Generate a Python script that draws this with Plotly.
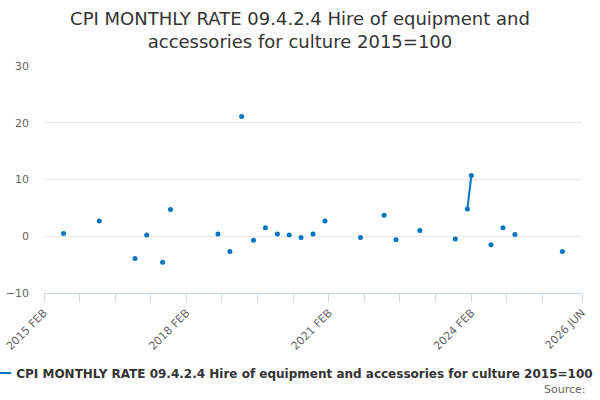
import pandas as pd
import plotly.graph_objects as go

title_text = "CPI MONTHLY RATE 09.4.2.4 Hire of equipment and<br>accessories for culture 2015=100"
series_name = "CPI MONTHLY RATE 09.4.2.4 Hire of equipment and accessories for culture 2015=100"

obs_months = ["2015-07", "2016-04", "2017-01", "2017-04", "2017-08", "2017-10",
              "2018-10", "2019-01", "2019-04", "2019-07", "2019-10", "2020-01",
              "2020-04", "2020-07", "2020-10", "2021-01", "2021-10", "2022-04",
              "2022-07", "2023-01", "2023-10", "2024-01", "2024-02", "2024-07",
              "2024-10", "2025-01", "2026-01"]
obs_values = [0.5, 2.7, -3.9, 0.2, -4.6, 4.7,
              0.4, -2.7, 21.1, -0.7, 1.5, 0.4,
              0.2, -0.2, 0.4, 2.7, -0.2, 3.7,
              -0.6, 1.0, -0.5, 4.8, 10.7, -1.5,
              1.5, 0.3, -2.7]

tick_dates = ["2015-02-01", "2015-11-01", "2016-08-01", "2017-05-01", "2018-02-01",
              "2018-11-01", "2019-08-01", "2020-05-01", "2021-02-01", "2021-11-01",
              "2022-08-01", "2023-05-01", "2024-02-01", "2024-11-01", "2025-08-01",
              "2026-06-01"]
tick_labels = ["2015 FEB", "", "", "", "2018 FEB", "", "", "", "2021 FEB", "", "", "",
               "2024 FEB", "", "", "2026 JUN"]

y_ticks = [-10, 0, 10, 20, 30]

# monthly index with gaps so only consecutive months are joined
months = pd.period_range("2015-02", "2026-01", freq="M")
lookup = dict(zip(obs_months, obs_values))
x_vals = [m.to_timestamp() for m in months]
y_vals = [lookup.get(str(m), None) for m in months]

color = "#0076c0"

fig = go.Figure()
fig.add_trace(go.Scatter(
    x=x_vals, y=y_vals, mode="lines+markers", name=series_name,
    line=dict(color=color, width=2), marker=dict(color=color, size=5),
    connectgaps=False, showlegend=True,
))

fig.update_layout(
    width=600, height=400,
    paper_bgcolor="white", plot_bgcolor="white",
    font=dict(family="DejaVu Sans", color="#666666"),
    title=dict(text=title_text, x=0.5, xanchor="center", y=0.9375, yanchor="middle",
               font=dict(size=18, color="#333333")),
    margin=dict(l=44, r=18, t=66, b=107, autoexpand=False),
    xaxis=dict(
        type="date", range=["2015-02-01", "2026-06-01"],
        tickvals=tick_dates, ticktext=tick_labels, tickangle=-45,
        ticks="outside", ticklen=8, tickcolor="#ccd6eb", tickwidth=1,
        showline=True, linecolor="#ccd6eb", linewidth=1,
        showgrid=False, zeroline=False, automargin=False,
        tickfont=dict(size=11, color="#666666"),
    ),
    yaxis=dict(
        range=[-10, 30], tickvals=y_ticks,
        showgrid=True, gridcolor="#e6e6e6", gridwidth=1,
        zeroline=False, showline=False, ticks="", automargin=False,
        ticklabelstandoff=14,
        tickfont=dict(size=11, color="#666666"),
    ),
    legend=dict(orientation="h", x=-0.126, xanchor="left", y=-0.352, yanchor="middle",
                font=dict(size=12, color="#333333", weight="bold"),
                itemwidth=30),
    annotations=[dict(text="Source:", xref="paper", yref="paper", x=1.011, y=-0.427,
                      xanchor="right", yanchor="middle", showarrow=False,
                      font=dict(size=11, color="#666666"))],
)

fig.write_html("out.html", config={"displayModeBar": False},
               post_script="document.body.style.margin='0';")
